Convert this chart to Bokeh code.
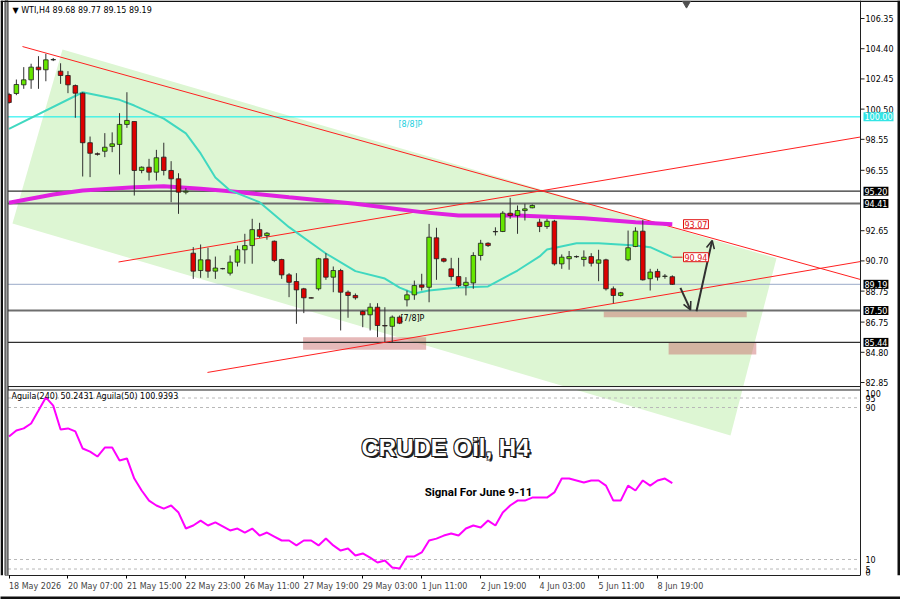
from bokeh.plotting import figure
from bokeh.models import (Range1d, FixedTicker, Label, ColumnDataSource, Arrow, OpenHead,
                          LinearAxis)
from bokeh.core.properties import value
from bokeh.embed import file_html
from bokeh.resources import INLINE

# ---------------- data ----------------
opens = [101.44, 101.51, 102.07, 102.39, 103.21, 103.04, 103.68, 102.95, 102.67, 102.02,
         101.53, 98.33, 97.62, 97.78, 98.09, 98.22, 99.51, 99.70, 96.54, 96.75,
         96.43, 97.40, 96.54, 96.00, 95.14, 91.20, 90.08, 90.77, 90.04, 90.20,
         89.91, 90.62, 91.42, 91.69, 92.72, 92.34, 91.97, 90.79, 89.80, 89.37,
         88.90, 88.32, 88.90, 90.84, 89.65, 90.08, 88.68, 88.47, 87.44, 87.22,
         87.71, 86.53, 86.48, 87.07, 88.19, 88.51, 89.15, 89.00, 92.19, 90.84,
         90.19, 89.69, 89.11, 89.28, 91.05, 91.84, 92.60, 92.60, 93.78, 93.63,
         93.95, 94.13, 93.20, 92.92, 93.26, 90.51, 90.84, 90.98, 90.79, 90.98,
         90.55, 90.77, 88.90, 88.47, 90.77, 91.63, 92.62, 89.55, 90.02, 89.70,
         89.68]
highs = [101.55, 102.41, 103.21, 103.43, 103.92, 104.07, 103.80, 103.46, 102.95, 102.09,
         101.59, 98.73, 97.70, 98.95, 99.00, 100.24, 101.59, 99.70, 96.80, 97.29,
         97.87, 98.33, 97.14, 96.36, 95.40, 91.59, 91.76, 91.55, 90.98, 90.25,
         91.05, 91.69, 92.45, 93.42, 93.16, 92.56, 92.02, 90.84, 89.91, 89.91,
         88.96, 88.36, 90.90, 91.20, 90.34, 90.19, 88.79, 88.60, 87.50, 87.97,
         87.97, 87.71, 87.18, 87.18, 88.79, 89.43, 89.87, 93.09, 92.84, 90.90,
         90.90, 90.90, 89.65, 91.26, 92.06, 91.90, 92.87, 93.91, 94.77, 94.28,
         94.39, 94.35, 93.42, 93.42, 93.35, 91.12, 91.34, 91.05, 91.38, 91.20,
         91.42, 90.84, 89.05, 88.70, 92.66, 92.87, 93.35, 90.19, 90.19, 89.85,
         89.77]
lows = [100.85, 101.40, 101.81, 101.81, 101.81, 102.30, 103.60, 102.13, 101.53, 99.94,
        96.15, 96.11, 97.50, 97.40, 97.72, 96.28, 99.29, 94.92, 96.36, 95.89,
        95.89, 96.22, 94.49, 93.74, 95.00, 89.54, 89.61, 89.61, 89.54, 90.15,
        89.76, 90.34, 90.52, 90.52, 92.19, 92.07, 90.62, 89.54, 88.36, 86.64,
        87.33, 88.28, 88.79, 89.48, 88.68, 86.21, 87.03, 88.20, 86.42, 86.21,
        85.78, 85.46, 85.46, 86.62, 87.76, 88.19, 88.79, 88.03, 89.48, 90.60,
        89.43, 89.00, 88.47, 88.90, 90.73, 91.60, 92.34, 92.56, 93.42, 92.45,
        93.31, 94.10, 92.56, 92.77, 90.40, 90.19, 90.13, 90.90, 90.34, 90.34,
        89.39, 88.79, 87.97, 88.40, 90.68, 91.59, 89.43, 88.79, 89.43, 89.55,
        89.15]
closes = [100.93, 102.09, 102.39, 103.21, 103.04, 103.68, 103.70, 102.67, 102.07, 101.53,
          98.33, 97.65, 97.58, 98.04, 98.26, 99.51, 99.77, 96.54, 96.75, 96.43,
          97.36, 96.54, 96.00, 95.14, 95.20, 90.04, 90.77, 90.04, 90.24, 90.20,
          90.62, 91.42, 91.69, 92.72, 92.29, 92.49, 90.73, 89.80, 89.32, 88.83,
          88.32, 88.30, 90.84, 89.65, 90.08, 88.68, 88.47, 88.32, 87.22, 87.71,
          86.53, 86.50, 87.07, 86.68, 88.51, 89.11, 89.00, 92.23, 90.84, 90.68,
          89.69, 89.11, 89.32, 91.05, 91.84, 91.69, 92.58, 93.78, 93.63, 93.95,
          94.06, 94.28, 92.92, 93.26, 90.51, 90.94, 90.98, 90.97, 90.94, 90.55,
          90.77, 88.90, 88.47, 88.64, 91.55, 92.62, 89.48, 89.98, 89.65, 89.72,
          89.19]

# oscillator (Aguila 240)
aguila_vals = [74.7, 77.9, 79.0, 81.6, 88.4, 95.3, 91.0, 78.4, 79.0, 77.4,
               68.4, 66.8, 64.2, 68.9, 68.9, 62.1, 63.2, 52.6, 46.3, 41.0,
               38.4, 36.8, 38.4, 34.7, 26.3, 27.9, 30.5, 27.9, 29.5, 27.4,
               25.3, 26.3, 24.2, 26.3, 22.6, 24.2, 22.1, 20.0, 20.0, 17.4,
               20.0, 20.0, 17.4, 21.0, 17.4, 14.7, 15.8, 12.1, 13.2, 11.0,
               8.4, 9.5, 5.8, 5.3, 11.6, 11.6, 13.7, 20.0, 21.0, 22.6,
               23.7, 22.6, 26.3, 27.9, 26.8, 30.5, 27.9, 34.7, 38.4, 41.0,
               41.0, 42.6, 42.6, 42.6, 45.3, 52.6, 52.6, 51.6, 50.5, 51.6,
               51.6, 48.9, 41.0, 41.0, 48.9, 46.3, 51.6, 48.9, 51.6, 52.6,
               50.2]

# moving averages (bar index, price)
ma20_bars = [0, 10, 15, 17, 21, 24, 26, 28, 30, 34, 38, 43, 47, 51, 53, 55, 57, 61,
             65, 69, 72, 73, 77, 80, 85, 87, 90]
ma20_vals = [99.23, 101.59, 101.10, 100.73, 99.89, 98.93, 97.64, 96.09, 95.25, 94.49,
             92.88, 91.18, 90.04, 89.56, 88.98, 88.60, 88.79, 88.98, 89.05, 90.08,
             90.99, 91.44, 91.84, 91.84, 91.69, 91.59, 90.94]
ma200_bars = [0, 6, 10, 17, 21, 26, 30, 38, 47, 56, 61, 69, 78, 85, 90]
ma200_vals = [94.45, 94.99, 95.25, 95.46, 95.52, 95.36, 95.20, 94.81, 94.39, 93.85,
              93.63, 93.63, 93.46, 93.20, 93.07]

x_tick_bars = [0, 8, 16, 24, 32, 40, 48, 56, 64, 72, 80, 88]
x_tick_labels = ["18 May 2026", "20 May 07:00", "21 May 15:00", "22 May 23:00",
                 "26 May 11:00", "27 May 19:00", "29 May 03:00", "1 Jun 11:00",
                 "2 Jun 19:00", "4 Jun 03:00", "5 Jun 11:00", "8 Jun 19:00"]
price_ticks = [106.35, 104.40, 102.45, 100.50, 98.55, 96.55, 92.65, 90.70, 88.75,
               86.75, 84.80, 82.85]

cyan_level = 100.00
black_levels = [95.20, 94.41, 87.50, 85.44]
last_price = 89.19
ind_levels = [95, 90, 10, 5]
ind_tick_values = [100, 95, 90, 10, 5, 0]

# drawn objects (bar index, price)
trend_x0 = [1.83, 14.86, 26.93]
trend_y0 = [104.54, 90.63, 83.50]
trend_x1 = [115.54, 115.54, 115.54]
trend_y1 = [89.50, 98.70, 90.66]
channel_x = [7.26, 104.14, 97.9, 0.47]
channel_y = [104.35, 90.87, 79.43, 93.12]
zone_left = [39.9, 80.7, 89.5]
zone_right = [56.6, 100.1, 101.4]
zone_top = [85.78, 87.43, 85.43]
zone_bottom = [84.96, 87.07, 84.66]
arrow_x0 = [91.1, 93.28]
arrow_y0 = [88.96, 87.45]
arrow_x1 = [92.47, 95.41]
arrow_y1 = [87.54, 92.02]

# ---------------- layout ----------------
PXB = 7.37            # pixels per bar
PXP = 15.49           # pixels per price unit
PXI = 1.9             # pixels per oscillator unit


def rx(px):  # page column -> bar coordinate (layout only)
    return (px - 8.5) / PXB


def ry(py):  # page row -> price (layout only)
    return 106.35 - (py - 18) / PXP


def rv(py):  # page row -> oscillator value (layout only)
    return 90 - (py - 407) / PXI


FRAME_W, FRAME_H = 900, 575
X0, X1 = rx(0), rx(FRAME_W)
XL, XAX = rx(7.5), rx(860)
P0, P1 = ry(FRAME_H), ry(0)
I0, I1 = rv(FRAME_H), rv(0)
FONT = "DejaVu Sans"
FS = "8px"
LEVEL_COLORS = ["#303030", "#6E6E6E", "#6E6E6E", "#303030"]
LEVEL_WIDTHS = [1.2, 2, 2, 1.2]

p = figure(frame_width=FRAME_W, frame_height=FRAME_H, x_range=Range1d(X0, X1),
           y_range=Range1d(P0, P1), output_backend="svg", toolbar_location=None,
           y_axis_location=None, min_border_left=0, min_border_right=0,
           min_border_top=0, min_border_bottom=24, outline_line_color=None,
           background_fill_color="white", border_fill_color="white")
p.extra_y_ranges = {"ind": Range1d(I0, I1)}
p.xgrid.visible = False
p.ygrid.visible = False

# channel
p.patch(channel_x, channel_y, fill_color="#DDF6D3", line_color=None)
# zones
p.quad(left=zone_left, right=zone_right, top=zone_top, bottom=zone_bottom,
       fill_color="#C86464", fill_alpha=0.45, line_color=None)
# horizontal levels
p.segment(x0=[XL], x1=[XAX], y0=[cyan_level], y1=[cyan_level], line_color="#00EEEE", line_width=1)
p.segment(x0=[XL] * len(black_levels), x1=[XAX] * len(black_levels), y0=black_levels,
          y1=black_levels, line_color=LEVEL_COLORS, line_width=LEVEL_WIDTHS)
p.segment(x0=[XL], x1=[XAX], y0=[last_price], y1=[last_price], line_color="#9AAAC8", line_width=1)
# trend lines
p.segment(x0=trend_x0, y0=trend_y0, x1=trend_x1, y1=trend_y1, line_color="#FF2020", line_width=1)
# moving averages
p.line(ma200_bars, ma200_vals, line_color="#E020E0", line_width=4)
p.line(ma20_bars, ma20_vals, line_color="#40D8C0", line_width=2)

# candles
n = len(opens)
bars = list(range(n))
bull = [c >= o for o, c in zip(opens, closes)]
src = ColumnDataSource(dict(
    x=bars, o=opens, h=highs, l=lows, c=closes,
    top=[max(o, c) for o, c in zip(opens, closes)],
    bot=[min(o, c) for o, c in zip(opens, closes)],
    col=["#66E600" if b else "#DD0000" for b in bull]))
p.segment(x0="x", x1="x", y0="l", y1="h", source=src, line_color="#303030", line_width=1)
p.vbar(x="x", width=0.62, top="top", bottom="bot", source=src, fill_color="col",
       line_color="#202020", line_width=0.8)

# arrows
for xa, ya, xb, yb in zip(arrow_x0, arrow_y0, arrow_x1, arrow_y1):
    p.add_layout(Arrow(end=OpenHead(size=8, line_color="#303030", line_width=1.6),
                       x_start=xa, y_start=ya, x_end=xb, y_end=yb,
                       line_color="#303030", line_width=2))

# oscillator
p.segment(x0=[XL] * len(ind_levels), x1=[XAX] * len(ind_levels), y0=ind_levels, y1=ind_levels,
          y_range_name="ind", line_color="#B8B8B8", line_dash="3 3", line_width=1)
p.line(bars, aguila_vals, y_range_name="ind", line_color="#FF00FF", line_width=2)

# window chrome: panel separator, borders, price-scale line
p.quad(left=[XL], right=[XAX], top=[ry(386)], bottom=[ry(389.5)], fill_color="#F4F4F4",
       line_color="#202020", line_width=1)
p.quad(left=[X0], right=[rx(2.5)], top=[P1], bottom=[P0], fill_color="#101010", line_color=None)
p.quad(left=[rx(4.5)], right=[rx(7.5)], top=[P1], bottom=[P0], fill_color="#A0A0A0",
       line_color="#303030", line_width=1)
p.quad(left=[rx(897)], right=[X1], top=[P1], bottom=[P0], fill_color="#101010", line_color=None)
p.quad(left=[X0], right=[X1], top=[P1], bottom=[ry(1.5)], fill_color="#101010", line_color=None)
p.segment(x0=[XAX], x1=[XAX], y0=[P0], y1=[P1], line_color="#202020", line_width=1)
p.scatter([rx(686)], [ry(3)], marker="inverted_triangle", size=8, color="#505050")

# price scale ticks and labels (right side)
p.segment(x0=[XAX] * len(price_ticks), x1=[rx(864)] * len(price_ticks), y0=price_ticks,
          y1=price_ticks, line_color="#202020", line_width=1)
p.text(x=[rx(865)] * len(price_ticks), y=price_ticks, text=[f"{t:.2f}" for t in price_ticks],
       text_font=value(FONT), text_font_size=value(FS), text_baseline="middle",
       text_align="left", text_color="black")
# oscillator scale labels, kept inside the sub-window like the terminal does
ind_label_y = [min(max(t, rv(572)), rv(393)) for t in ind_tick_values]
p.text(x=[rx(865)] * len(ind_tick_values), y=ind_label_y,
       text=[str(t) for t in ind_tick_values], y_range_name="ind",
       text_font=value(FONT), text_font_size=value(FS), text_baseline="middle",
       text_align="left", text_color="black")


def price_box(val, bg, fg="white"):
    p.add_layout(Label(x=rx(863), y=val, text=f"{val:.2f}", text_baseline="middle",
                       text_font=FONT, text_font_size=FS, text_color=fg,
                       background_fill_color=bg, padding=1))


price_box(cyan_level, "#33E5E5")
for lv in black_levels:
    price_box(lv, "black")
price_box(last_price, "black")

# bottom axis (time)
bx = p.xaxis[0]
bx.ticker = FixedTicker(ticks=x_tick_bars)
bx.major_label_overrides = {b: t for b, t in zip(x_tick_bars, x_tick_labels)}
bx.major_label_orientation = -0.0001
bx.major_label_text_font = FONT
bx.major_label_text_font_size = FS
bx.major_tick_in = 0
bx.major_tick_out = 3
bx.minor_tick_out = 0
bx.minor_tick_in = 0
bx.major_label_standoff = 8
bx.axis_line_color = "#202020"
bx.bounds = (XL, XAX)

# bottom window edge
edge = LinearAxis(ticker=FixedTicker(ticks=[]), axis_line_color="#101010", axis_line_width=4,
                  major_tick_out=0, major_tick_in=0, minor_tick_out=0, minor_tick_in=0,
                  major_label_text_font_size="0px")
p.add_layout(edge, "below")

# MA value tags
p.add_layout(Label(x=rx(683), y=ma200_vals[-1], text=f"{ma200_vals[-1]:.2f}", text_baseline="middle",
                   text_font=FONT, text_font_size=FS, text_color="#E01010",
                   background_fill_color="white", border_line_color="#E01010", padding=1))
p.add_layout(Label(x=rx(683), y=ma20_vals[-1], text=f"{ma20_vals[-1]:.2f}", text_baseline="middle",
                   text_font=FONT, text_font_size=FS, text_color="#E01010",
                   background_fill_color="white", border_line_color="#E01010", padding=1))
p.segment(x0=[ma20_bars[-1]], x1=[rx(682)], y0=[ma20_vals[-1]], y1=[ma20_vals[-1]],
          line_color="#E01010", line_width=1)

# texts
p.add_layout(Label(x=rx(12), y=ry(10), text="\u25BC WTI,H4  89.68 89.77 89.15 89.19",
                   text_baseline="middle", text_font=FONT, text_font_size=FS, text_color="black"))
p.add_layout(Label(x=rx(11), y=rv(396), y_range_name="ind",
                   text="Aguila(240) 50.2431  Aguila(50) 100.9393",
                   text_baseline="middle", text_font=FONT, text_font_size=FS, text_color="black"))
p.add_layout(Label(x=rx(398), y=ry(124), text="[8/8]P", text_baseline="middle",
                   text_font=FONT, text_font_size=FS, text_color="#20D0E0"))
p.add_layout(Label(x=rx(400), y=ry(318), text="[7/8]P", text_baseline="middle",
                   text_font=FONT, text_font_size=FS, text_color="black"))

for dx, dy in [(-1, -1), (1, 1), (-1, 1), (1, -1), (2, 2)]:
    p.add_layout(Label(x=rx(445), y=rv(447), x_offset=dx, y_offset=-dy, y_range_name="ind",
                       text="CRUDE Oil, H4", text_align="center", text_baseline="middle",
                       text_font="Liberation Sans", text_font_size="24px",
                       text_font_style="bold", text_color="#202020"))
p.add_layout(Label(x=rx(445), y=rv(447), y_range_name="ind",
                   text="CRUDE Oil, H4", text_align="center", text_baseline="middle",
                   text_font="Liberation Sans", text_font_size="24px",
                   text_font_style="bold", text_color="white"))
p.add_layout(Label(x=rx(478), y=rv(491), y_range_name="ind",
                   text="Signal For June 9-11", text_align="center", text_baseline="middle",
                   text_font="Roboto", text_font_size="11.5px",
                   text_font_style="bold", text_color="black"))

open("out.html", "w").write(file_html(p, INLINE))
